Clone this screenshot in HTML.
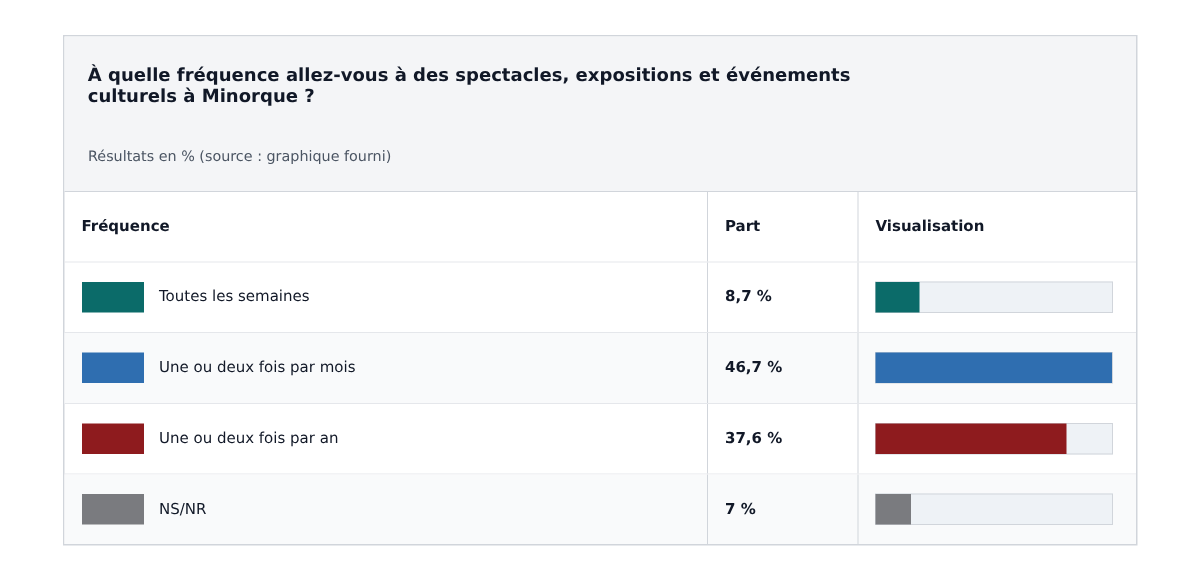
<!DOCTYPE html>
<html lang="fr">
<head>
<meta charset="utf-8">
<title>Fréquence des sorties culturelles à Minorque</title>
<style>
*{box-sizing:border-box;margin:0;padding:0}
html,body{width:1200px;height:580px;background:#fff;overflow:hidden}
body{font-family:"DejaVu Sans","Liberation Sans",sans-serif;color:#111827;position:relative;text-rendering:geometricPrecision}
/* layout is authored in CSS px on a half-pixel grid: zoom 2 then scale .5 keeps the 0.5px edges antialiased */
.scale{position:absolute;left:0;top:0;width:2400px;height:1160px;transform:scale(.5);transform-origin:0 0}
.page{zoom:2;position:relative;width:1200px;height:580px}
.card{position:absolute;left:63px;top:35px;width:1074.5px;height:510.5px;border:1.5px solid #d1d5db;background:#fff}
.head{position:absolute;left:0;top:0;width:1071.5px;height:155.5px;background:#f4f5f7;border-bottom:1px solid #d1d5db}
.head h1{position:absolute;left:23.25px;top:28.5px;width:800px;font-size:18.04px;line-height:20.5px;font-weight:bold;color:#111827}
.head p{position:absolute;left:23.5px;top:111px;font-size:14.34px;line-height:17px;color:#4b5563;white-space:nowrap}
.table{position:absolute;left:0;top:155.5px;width:1071.5px}
.row{position:relative;height:70.5px;border-bottom:1px solid #e5e7eb;font-size:15px;color:#111827}
.row:nth-child(3){height:71px}
.row:last-child{height:69.5px;border-bottom:none}
.row.alt{background:#f9fafb}
.cell{position:absolute;top:0;bottom:0;display:flex;align-items:center;padding-left:17.5px;white-space:nowrap}
.c1{left:0;width:642.5px}
.c2{left:642.5px;width:150.5px;border-left:1px solid #d1d5db;font-weight:bold;padding-left:17px}
.c3{left:793px;right:0;border-left:1px solid #d1d5db;padding-left:17px}
.th .cell{font-weight:bold;color:#111827}
.th .c1{padding-left:17px}
.cell .t{position:relative;top:-1px}
.row:nth-child(5) .t{top:0}
.sw{display:block;width:62px;height:30.5px;margin-right:15px;flex:none;align-self:flex-start;margin-top:19.5px}
.track{position:relative;margin-left:-.5px;align-self:flex-start;margin-top:19px;width:238px;height:31.5px;background:#eef2f6;border:1px solid #d1d5db}
.fill{position:absolute;left:-.5px;top:-.5px;bottom:-.5px}
</style>
</head>
<body>
<div class="scale"><div class="page">
<div class="card">
  <div class="head">
    <h1>À quelle fréquence allez-vous à des spectacles, expositions et événements culturels à Minorque ?</h1>
    <p>Résultats en % (source : graphique fourni)</p>
  </div>
  <div class="table">
    <div class="row th"><div class="cell c1"><span class="t">Fréquence</span></div><div class="cell c2"><span class="t">Part</span></div><div class="cell c3"><span class="t">Visualisation</span></div></div>
    <div class="row"><div class="cell c1"><span class="sw" style="background:#0b6b69"></span><span class="t">Toutes les semaines</span></div><div class="cell c2"><span class="t">8,7 %</span></div><div class="cell c3"><div class="track"><div class="fill" style="width:44px;background:#0b6b69"></div></div></div></div>
    <div class="row alt"><div class="cell c1"><span class="sw" style="background:#2f6eb0"></span><span class="t">Une ou deux fois par mois</span></div><div class="cell c2"><span class="t">46,7 %</span></div><div class="cell c3"><div class="track"><div class="fill" style="width:236.5px;background:#2f6eb0"></div></div></div></div>
    <div class="row"><div class="cell c1"><span class="sw" style="background:#8e1b1e"></span><span class="t">Une ou deux fois par an</span></div><div class="cell c2"><span class="t">37,6 %</span></div><div class="cell c3"><div class="track"><div class="fill" style="width:191px;background:#8e1b1e"></div></div></div></div>
    <div class="row alt"><div class="cell c1"><span class="sw" style="background:#7a7b7f"></span><span class="t">NS/NR</span></div><div class="cell c2"><span class="t">7 %</span></div><div class="cell c3"><div class="track"><div class="fill" style="width:35.5px;background:#7a7b7f"></div></div></div></div>
  </div>
</div>
</div></div>
</body>
</html>
